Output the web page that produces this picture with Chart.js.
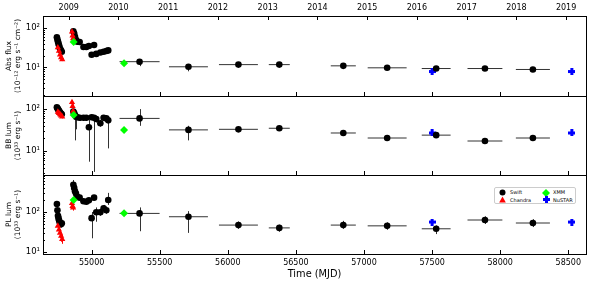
<!DOCTYPE html>
<html>
<head>
<meta charset="utf-8">
<script src="https://cdn.jsdelivr.net/npm/chart.js@4.4.1/dist/chart.umd.min.js"></script>
<style>
  body { margin: 0; background: #fff; }
  #wrap { position: relative; width: 591px; height: 283px; font-family: "DejaVu Sans", sans-serif; }
  #wrap canvas { position: absolute; left: 0; top: 0; }
  #legend { position: absolute; left: 494px; top: 187px; width: 80px; height: 15px; border: 1px solid #ccc; border-radius: 2px; background: #fff; font-size: 5px; color: #000; }
  #legend span { position: absolute; line-height: 6px; white-space: nowrap; }
  #legend svg { position: absolute; }
</style>
</head>
<body>
<div id="wrap">
  <canvas id="fluxChart" width="591" height="283"></canvas>
  <canvas id="bbChart" width="591" height="283"></canvas>
  <canvas id="plChart" width="591" height="283"></canvas>
  <div id="legend">
    <svg style="left:4px;top:0.5px" width="7" height="7"><circle cx="3.5" cy="3.5" r="3" fill="#000"/></svg>
    <span style="left:15px;top:1px">Swift</span>
    <svg style="left:4px;top:8px" width="7" height="7"><polygon points="3.5,0.5 6.8,6.5 0.2,6.5" fill="#f00"/></svg>
    <span style="left:15px;top:9px">Chandra</span>
    <svg style="left:47px;top:0.5px" width="8" height="8"><polygon points="4,0 8,4 4,8 0,4" fill="#0f0"/></svg>
    <span style="left:58px;top:1px">XMM</span>
    <svg style="left:47.5px;top:8px" width="7" height="7"><path d="M2,0h3v2h2v3h-2v2h-3v-2h-2v-3h2z" fill="#00f"/></svg>
    <span style="left:58px;top:9px">NuSTAR</span>
  </div>
</div>
<script>
// axis ticks
const mjdTicks = [55000, 55500, 56000, 56500, 57000, 57500, 58000, 58500];
const yearMJD = [54832, 55197, 55562, 55927, 56293, 56658, 57023, 57388, 57754, 58119, 58484];
const yearLabels = ['2009', '2010', '2011', '2012', '2013', '2014', '2015', '2016', '2017', '2018', '2019'];
const decadeTicks = [10, 100];
const decadeLabels = ['10¹', '10²'];

// Swift
const swiftMJD = [54745, 54749, 54753, 54757, 54761, 54765, 54770, 54775, 54781, 54866, 54872, 54878, 54885, 54895, 54912, 54940, 54961, 54980, 55000, 55018, 55034, 55064, 55088, 55108, 55122, 55352, 55711, 56078, 56378, 56848, 57170, 57530, 57888, 58240];
const swiftMJDErr = [0, 0, 0, 0, 0, 0, 0, 0, 0, 0, 0, 0, 0, 0, 0, 0, 0, 0, 0, 0, 0, 0, 0, 0, 0, 147, 143, 143, 77, 92, 143, 106, 128, 125];
const swiftFlux = [58, 51, 45, 40, 36, 32, 29, 27, 25, 82, 72, 60, 50, 45, 44, 33, 33, 35, 21, 37, 22, 24, 25, 26, 27, 14, 10.4, 11.8, 11.8, 11.0, 9.8, 9.4, 9.4, 8.9];
const swiftFluxLo = [55, 48, 42, 38, 34, 30, 27, 25, 23, 78, 68, 57, 47, 42, 41, 31, 31, 33, 19, 35, 20, 22, 23, 24, 25, 10.8, 8.0, 10.9, 10.9, 10.1, 8.9, 8.6, 8.6, 8.1];
const swiftFluxHi = [61, 54, 48, 42, 38, 34, 31, 29, 27, 86, 76, 63, 53, 48, 47, 35, 35, 37, 23, 39, 24, 26, 27, 28, 29, 15.5, 11.5, 12.8, 12.8, 12.0, 10.7, 10.3, 10.3, 9.7];
const swiftBB = [110, 105, 100, 95, 90, 86, 82, 78, 75, 88, 80, 72, 66, 64, 62, 62, 62, 37, 64, 62, 58, 46, 62, 60, 54, 60, 32, 33, 35, 27, 20.5, 24, 17.4, 20.5];
const swiftBBLo = [100, 95, 90, 86, 81, 77, 74, 70, 67, 78, 70, 18, 33, 56, 52, 52, 52, 5.6, 55, 3.2, 48, 38, 52, 50, 11.6, 40, 18, 29, 31, 23.5, 17.5, 20.5, 14.8, 17.5];
const swiftBBHi = [120, 115, 110, 104, 99, 95, 90, 86, 83, 98, 90, 82, 76, 72, 72, 72, 72, 55, 73, 72, 68, 55, 72, 70, 62, 100, 40, 37, 39, 30.5, 23.5, 27.5, 20, 23.5];
const swiftPL = [158, 110, 80, 70, 62, 56, 52, 49, 52, 480, 400, 330, 290, 240, 228, 185, 180, 195, 70, 228, 98, 98, 124, 110, 200, 92, 76, 47, 40, 47, 45, 38, 63, 53];
const swiftPLLo = [140, 98, 70, 61, 54, 48, 44, 41, 44, 420, 350, 290, 255, 210, 200, 160, 155, 170, 22, 200, 57, 80, 100, 90, 150, 33, 30, 38, 32, 38, 36, 28, 50, 42];
const swiftPLHi = [178, 124, 90, 80, 71, 65, 60, 57, 60, 630, 460, 375, 330, 275, 262, 215, 210, 225, 100, 262, 130, 118, 150, 135, 300, 130, 105, 58, 48, 60, 55, 46, 78, 66];

// Chandra
const chandraMJD = [54752, 54760, 54768, 54776, 54784, 54856, 54860, 54864];
const chandraFlux = [32, 26, 21, 18, 16, 80, 64, 54];
const chandraFluxLo = [29, 23, 19, 16, 14.5, 72, 58, 49];
const chandraFluxHi = [35, 29, 23, 20, 17.5, 88, 70, 59];
const chandraBB = [86, 80, 75, 70, 66, 145, 118, 90];
const chandraBBLo = [78, 72, 68, 63, 60, 130, 106, 81];
const chandraBBHi = [94, 88, 82, 77, 72, 160, 130, 99];
const chandraPL = [45, 36, 30, 25, 21, 165, 140, 128];
const chandraPLLo = [38, 28, 22, 18, 16, 140, 118, 108];
const chandraPLHi = [52, 44, 37, 31, 27, 190, 162, 148];

// XMM
const xmmMJD = [54868, 55238];
const xmmFlux = [44, 12.8];
const xmmBB = [72, 32];
const xmmPL = [200, 93];

// NuSTAR
const nustarMJD = [57500, 58526];
const nustarFlux = [7.9, 7.9];
const nustarBB = [27, 27];
const nustarPL = [56, 56];

const FONT = 'DejaVu Sans';

function points(mjd, mjdErr, vals, lo, hi) {
  return mjd.map((m, i) => ({
    x: m,
    y: vals[i],
    xErr: mjdErr ? mjdErr[i] : 0,
    lo: lo ? lo[i] : null,
    hi: hi ? hi[i] : null
  }));
}

function plusMarker(color, size, arm) {
  const c = document.createElement('canvas');
  c.width = size; c.height = size;
  const g = c.getContext('2d');
  g.fillStyle = color;
  const o = (size - arm) / 2;
  g.fillRect(o, 0, arm, size);
  g.fillRect(0, o, size, arm);
  return c;
}
const nustarMarker = plusMarker('#0000ff', 7, 3);

// error bars drawn under the markers
const errorBars = {
  id: 'errorBars',
  beforeDatasetsDraw(chart) {
    const { ctx, chartArea: a, scales: { x, y } } = chart;
    ctx.save();
    ctx.beginPath();
    ctx.rect(a.left, a.top, a.right - a.left, a.bottom - a.top);
    ctx.clip();
    ctx.lineWidth = 1;
    chart.data.datasets.forEach(ds => {
      ctx.strokeStyle = ds.errColor;
      ctx.beginPath();
      ds.data.forEach(p => {
        const px = x.getPixelForValue(p.x);
        const py = y.getPixelForValue(p.y);
        if (p.xErr) {
          ctx.moveTo(x.getPixelForValue(p.x - p.xErr), py);
          ctx.lineTo(x.getPixelForValue(p.x + p.xErr), py);
        }
        if (p.lo != null) {
          ctx.moveTo(Math.round(px) + 0.5, y.getPixelForValue(p.lo));
          ctx.lineTo(Math.round(px) + 0.5, y.getPixelForValue(p.hi));
        }
      });
      ctx.stroke();
    });
    ctx.restore();
  }
};

// box around each panel with inward ticks, like matplotlib
const panelFrame = {
  id: 'panelFrame',
  afterDraw(chart) {
    const { ctx, chartArea: a, scales } = chart;
    ctx.save();
    ctx.strokeStyle = '#000';
    ctx.lineWidth = 1;
    ctx.strokeRect(Math.round(a.left) + 0.5, Math.round(a.top) + 0.5, Math.round(a.right - a.left), Math.round(a.bottom - a.top));
    ctx.beginPath();
    mjdTicks.forEach(v => {
      const px = Math.round(scales.x.getPixelForValue(v)) + 0.5;
      ctx.moveTo(px, a.bottom);
      ctx.lineTo(px, a.bottom - 4);
    });
    if (scales.xTop) {
      yearMJD.forEach(v => {
        const px = Math.round(scales.xTop.getPixelForValue(v)) + 0.5;
        ctx.moveTo(px, a.top);
        ctx.lineTo(px, a.top + 4);
      });
    }
    const y = scales.y;
    [1, 10, 100].forEach(dec => {
      for (let m = 1; m <= 9; m++) {
        const v = m * dec;
        if (v < y.min || v > y.max) continue;
        const py = Math.round(y.getPixelForValue(v)) + 0.5;
        ctx.moveTo(a.left, py);
        ctx.lineTo(a.left + (m === 1 ? 4 : 2), py);
      }
    });
    ctx.stroke();
    ctx.restore();
  }
};

function makePanel(id, cfg) {
  const scales = {
    x: {
      type: 'linear',
      position: 'bottom',
      min: 54643,
      max: 58630,
      grid: { display: false, drawTicks: false },
      border: { display: false },
      afterBuildTicks: s => { s.ticks = mjdTicks.map(v => ({ value: v })); },
      ticks: {
        display: cfg.showMJD,
        autoSkip: false,
        maxRotation: 0,
        padding: 4,
        color: '#000',
        font: { family: FONT, size: 8 },
        callback: v => String(v)
      },
      title: {
        display: cfg.showMJD,
        text: 'Time (MJD)',
        color: '#000',
        font: { family: FONT, size: 9.8 },
        padding: { top: 0, bottom: 3 }
      },
      afterFit: s => { s.height = cfg.showMJD ? 29 : 0; }
    },
    y: {
      type: 'logarithmic',
      min: cfg.yMin,
      max: cfg.yMax,
      grid: { display: false, drawTicks: false },
      border: { display: false },
      afterBuildTicks: s => { s.ticks = decadeTicks.map(v => ({ value: v })); },
      ticks: {
        autoSkip: false,
        padding: 3,
        color: '#000',
        font: { family: FONT, size: 8.5 },
        callback: v => decadeLabels[decadeTicks.indexOf(v)] || ''
      },
      title: {
        display: true,
        text: cfg.yTitle,
        color: '#000',
        font: { family: FONT, size: 7.5, lineHeight: 1.2 },
        padding: { top: 4.5, bottom: 0 }
      },
      afterFit: s => { s.width = 43; }
    }
  };
  if (cfg.showYears) {
    scales.xTop = {
      type: 'linear',
      position: 'top',
      min: 54643,
      max: 58630,
      grid: { display: false, drawTicks: false },
      border: { display: false },
      afterBuildTicks: s => { s.ticks = yearMJD.map(v => ({ value: v })); },
      ticks: {
        autoSkip: false,
        maxRotation: 0,
        padding: 3,
        color: '#000',
        font: { family: FONT, size: 8 },
        callback: v => yearLabels[yearMJD.indexOf(v)]
      },
      afterFit: s => { s.height = 16; }
    };
  }

  return new Chart(document.getElementById(id), {
    type: 'scatter',
    data: {
      datasets: [
        {
          label: 'Swift',
          data: points(swiftMJD, swiftMJDErr, cfg.swift[0], cfg.swift[1], cfg.swift[2]),
          backgroundColor: '#000', borderColor: '#000',
          pointStyle: 'circle', pointRadius: 3.3, borderWidth: 0,
          errColor: '#333', order: 3
        },
        {
          label: 'Chandra',
          data: points(chandraMJD, null, cfg.chandra[0], cfg.chandra[1], cfg.chandra[2]),
          backgroundColor: '#ff0000', borderColor: '#ff0000',
          pointStyle: 'triangle', pointRadius: 3.6, borderWidth: 0,
          errColor: '#ff0000', order: 2
        },
        {
          label: 'XMM',
          data: points(xmmMJD, null, cfg.xmm),
          backgroundColor: '#00ff00', borderColor: '#00ff00',
          pointStyle: 'rectRot', pointRadius: 4, borderWidth: 0,
          errColor: '#00ff00', order: 1
        },
        {
          label: 'NuSTAR',
          data: points(nustarMJD, null, cfg.nustar),
          backgroundColor: '#0000ff', borderColor: '#0000ff',
          pointStyle: nustarMarker, pointRadius: 3.5,
          errColor: '#0000ff', order: 4
        }
      ]
    },
    options: {
      responsive: false,
      animation: false,
      layout: { padding: { left: 0, right: 4, top: cfg.padTop, bottom: cfg.padBottom } },
      plugins: { legend: { display: false }, tooltip: { enabled: false } },
      scales: scales
    },
    plugins: [errorBars, panelFrame]
  });
}

makePanel('fluxChart', {
  yMin: 1.9, yMax: 200,
  yTitle: ['Abs flux', '(10⁻¹² erg s⁻¹ cm⁻²)'],
  showYears: true, showMJD: false,
  padTop: 0, padBottom: 187,
  swift: [swiftFlux, swiftFluxLo, swiftFluxHi],
  chandra: [chandraFlux, chandraFluxLo, chandraFluxHi],
  xmm: xmmFlux, nustar: nustarFlux
});

makePanel('bbChart', {
  yMin: 2.7, yMax: 205,
  yTitle: ['BB lum', '(10³³ erg s⁻¹)'],
  showYears: false, showMJD: false,
  padTop: 96, padBottom: 108,
  swift: [swiftBB, swiftBBLo, swiftBBHi],
  chandra: [chandraBB, chandraBBLo, chandraBBHi],
  xmm: xmmBB, nustar: nustarBB
});

makePanel('plChart', {
  yMin: 8.9, yMax: 840,
  yTitle: ['PL lum', '(10³³ erg s⁻¹)'],
  showYears: false, showMJD: true,
  padTop: 175, padBottom: 0,
  swift: [swiftPL, swiftPLLo, swiftPLHi],
  chandra: [chandraPL, chandraPLLo, chandraPLHi],
  xmm: xmmPL, nustar: nustarPL
});
</script>
</body>
</html>
